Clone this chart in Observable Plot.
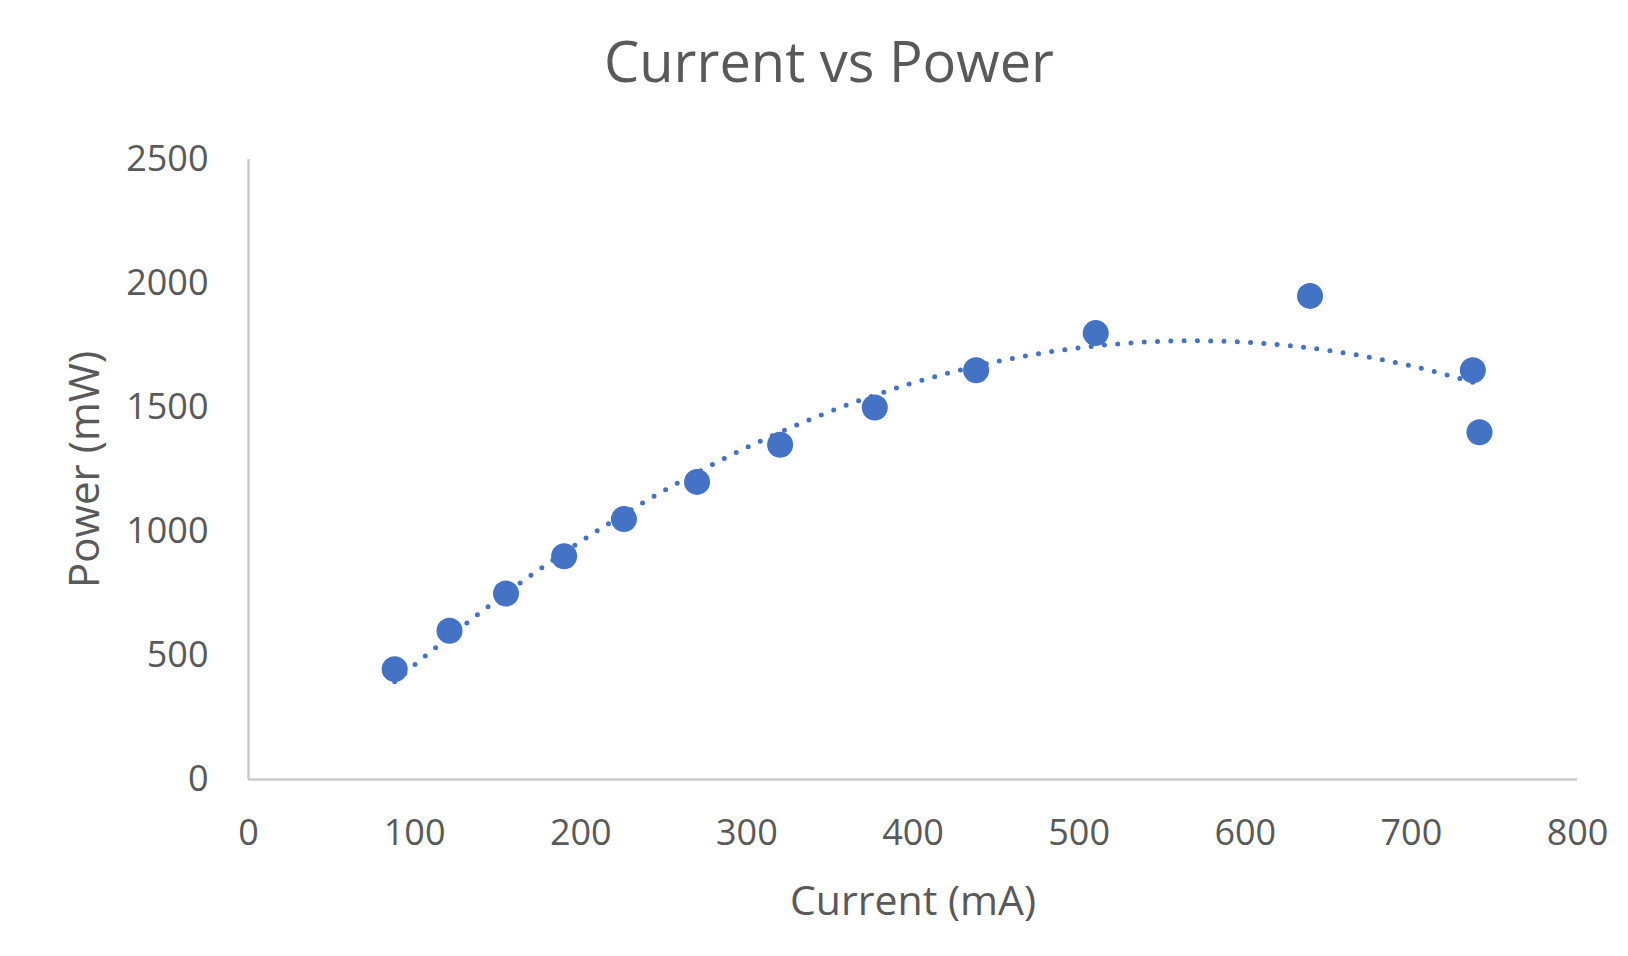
<!DOCTYPE html>
<html>
<head>
<meta charset="utf-8">
<script src="https://cdn.jsdelivr.net/npm/d3@7"></script>
<script src="https://cdn.jsdelivr.net/npm/@observablehq/plot@0.6"></script>
<style>
  html, body { margin: 0; padding: 0; background: #fff; }
  #wrap { width: 1628px; height: 956px; position: relative; overflow: hidden; font-family: "Open Sans", sans-serif; }
  #title { position: absolute; left: 0; top: 0; width: 1658px; height: 120px; text-align: center; font-size: 56px; color: #595959; line-height: 120px; }
  #chart { position: absolute; left: 0; top: 120px; }
</style>
</head>
<body>
<div id="wrap">
  <div id="title">Current vs Power</div>
  <div id="chart"></div>
</div>
<script>
const currentMA = [88, 121, 155, 190, 226, 270, 320, 377, 438, 510, 639, 737, 741];
const powerMW   = [445, 600, 750, 900, 1050, 1200, 1350, 1500, 1650, 1800, 1950, 1650, 1400];
const xTicks = [0, 100, 200, 300, 400, 500, 600, 700, 800];
const yTicks = [0, 500, 1000, 1500, 2000, 2500];

const data = currentMA.map((x, i) => ({x, y: powerMW[i]}));

// Order-2 polynomial least-squares trendline (as Excel's trendline), derived from the data
function polyFit2(xs, ys) {
  let s = [0,0,0,0,0], t = [0,0,0];
  xs.forEach((x, i) => {
    const y = ys[i];
    for (let k = 0; k < 5; k++) s[k] += x ** k;
    for (let k = 0; k < 3; k++) t[k] += y * x ** k;
  });
  const A = [[s[0], s[1], s[2], t[0]], [s[1], s[2], s[3], t[1]], [s[2], s[3], s[4], t[2]]];
  for (let i = 0; i < 3; i++) {
    for (let j = i + 1; j < 3; j++) {
      const f = A[j][i] / A[i][i];
      for (let k = i; k < 4; k++) A[j][k] -= f * A[i][k];
    }
  }
  const c = [0,0,0];
  for (let i = 2; i >= 0; i--) {
    let v = A[i][3];
    for (let k = i + 1; k < 3; k++) v -= A[i][k] * c[k];
    c[i] = v / A[i][i];
  }
  return c;
}
const coef = polyFit2(currentMA, powerMW);
const xmin = d3.min(currentMA), xmax = d3.max(currentMA);
const trend = d3.range(0, 201).map(i => {
  const x = xmin + (xmax - xmin) * i / 200;
  return {x, y: coef[0] + coef[1] * x + coef[2] * x * x};
});

const grey = "#595959";
const chart = Plot.plot({
  width: 1628,
  height: 836,
  marginLeft: 248,
  marginRight: 51,
  marginTop: 39,
  marginBottom: 177,
  style: {fontFamily: "'Open Sans', sans-serif", color: grey, background: "transparent"},
  x: {domain: [0, 800]},
  y: {domain: [0, 2500]},
  marks: [
    Plot.axisY({ticks: yTicks, tickSize: 0, tickPadding: 40, fontSize: 36, label: null, fill: grey, tickFormat: d => String(d)}),
    Plot.axisX({ticks: xTicks, tickSize: 0, tickPadding: 40, fontSize: 36, label: null, fill: grey, tickFormat: d => String(d)}),
    Plot.ruleX([0], {stroke: "#cccccc", strokeWidth: 2.5}),
    Plot.ruleY([0], {stroke: "#cccccc", strokeWidth: 2.5}),
    Plot.dot(data, {x: "x", y: "y", r: 13, fill: "#4472C4", stroke: "none"}),
    Plot.line(trend, {x: "x", y: "y", stroke: "#4472C4", strokeWidth: 5, strokeDasharray: "0 13.3", strokeLinecap: "round", curve: "linear"}),
    Plot.text(["Current (mA)"], {frameAnchor: "bottom", dy: 122, fontSize: 41, fill: grey, lineAnchor: "middle", textAnchor: "middle"}),
    Plot.text(["Power (mW)"], {frameAnchor: "left", dx: -163, rotate: -90, fontSize: 42, fill: grey, lineAnchor: "middle", textAnchor: "middle"})
  ]
});
document.getElementById("chart").appendChild(chart);
</script>
</body>
</html>
